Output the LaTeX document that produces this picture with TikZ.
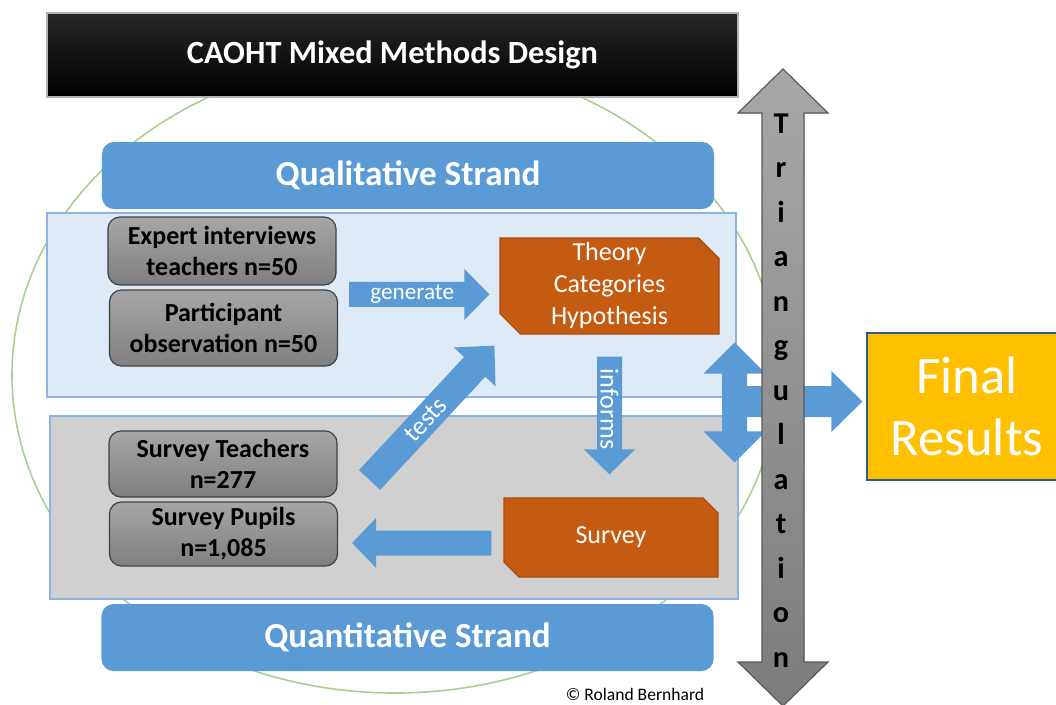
\documentclass[tikz,border=0pt]{standalone}
\usepackage{fontspec}
\setmainfont{Carlito}
\usetikzlibrary{calc,shapes.misc}

\definecolor{strandblue}{HTML}{5B9BD5}
\definecolor{qualfill}{HTML}{DEEBF7}
\definecolor{quantfill}{HTML}{D0D0D0}
\definecolor{regionline}{HTML}{8EB4E3}
\definecolor{boxtop}{HTML}{A6A6A6}
\definecolor{boxbot}{HTML}{7F7F7F}
\definecolor{boxline}{HTML}{404040}
\definecolor{methodorange}{HTML}{C55A11}
\definecolor{finalgold}{HTML}{FFC000}
\definecolor{finalline}{HTML}{2F5597}
\definecolor{circlegreen}{HTML}{A9D18E}
\definecolor{trilight}{HTML}{A8A8A8}
\definecolor{tridark}{HTML}{7C7C7C}
\definecolor{triline}{HTML}{5A5A5A}

% block arrow: [style]{from}{to}{shaft}{head width}{head length}, sizes in px
\newcommand{\blockarrow}[6][]{%
  \coordinate (ba-h) at ($(#3)!#6*0.25mm!(#2)$);
  \fill[#1] ($(#2)!#4*0.125mm!90:(#3)$) -- ($(ba-h)!#4*0.125mm!90:(#3)$)
    -- ($(ba-h)!#5*0.125mm!90:(#3)$) -- (#3)
    -- ($(ba-h)!#5*0.125mm!-90:(#3)$) -- ($(ba-h)!#4*0.125mm!-90:(#3)$)
    -- ($(#2)!#4*0.125mm!-90:(#3)$) -- cycle;}
% same with a head at both ends
\newcommand{\doublearrow}[6][]{%
  \coordinate (da-a) at ($(#2)!#6*0.25mm!(#3)$);
  \coordinate (da-b) at ($(#3)!#6*0.25mm!(#2)$);
  \fill[#1] (#2) -- ($(da-a)!#5*0.125mm!90:(#3)$) -- ($(da-a)!#4*0.125mm!90:(#3)$)
    -- ($(da-b)!#4*0.125mm!90:(#3)$) -- ($(da-b)!#5*0.125mm!90:(#3)$) -- (#3)
    -- ($(da-b)!#5*0.125mm!-90:(#3)$) -- ($(da-b)!#4*0.125mm!-90:(#3)$)
    -- ($(da-a)!#4*0.125mm!-90:(#3)$) -- ($(da-a)!#5*0.125mm!-90:(#3)$) -- cycle;}

\begin{document}
\begin{tikzpicture}[x=0.25mm,y=-0.25mm,
  title/.style={draw=gray!60, line width=0.3mm, top color=black!85, bottom color=black, text=white,
    font=\fontsize{23}{27}\selectfont\bfseries, minimum width=172.75mm, minimum height=21mm},
  strand/.style={fill=strandblue, rounded corners=3mm, text=white, font=\fontsize{25}{30}\selectfont\bfseries,
    minimum width=153mm, minimum height=16.75mm},
  region/.style={draw=regionline, line width=0.3mm},
  source/.style={draw=boxline, line width=0.3mm, rounded corners=3mm, top color=boxtop, bottom color=boxbot,
    font=\fontsize{18.5}{22}\selectfont\bfseries, align=center, minimum width=57mm},
  method/.style={chamfered rectangle, chamfered rectangle corners={north east,south west},
    chamfered rectangle xsep=4mm, fill=methodorange, draw=methodorange!85!black, line width=0.3mm,
    text=white, align=center, font=\fontsize{18.5}{22.8}\selectfont},
  arrowtext/.style={text=white, font=\fontsize{16.5}{20}\selectfont},
  final/.style={fill=finalgold, draw=finalline, line width=0.3mm, text=white, align=center,
    minimum width=50mm, minimum height=36.75mm, font=\fontsize{37.5}{44}\selectfont},
  trialetter/.style={font=\fontsize{21.5}{26}\selectfont\bfseries}]
\tikzstyle{every node}+=[inner sep=0pt]
\useasboundingbox (0,0) rectangle (1056,704);

\draw [circlegreen, line width=0.4mm] (395,375) ellipse (383 and 318);

\node[title] (title) at (392.5,55) {CAOHT Mixed Methods Design};
\node[strand] (qual) at (408,175.5) {Qualitative Strand};
\node[region, fill=qualfill, minimum width=172.25mm, minimum height=46mm] (qualreg) at (391.5,305) {};
\node[region, fill=quantfill, minimum width=172mm, minimum height=45.75mm] (quantreg) at (394,507.5) {};
\node[strand] (quant) at (407.5,637.5) {Quantitative Strand};

\node[source, minimum height=17mm] (expert) at (222,251) {Expert interviews\\teachers n=50};
\node[source, minimum height=19mm] (partic) at (223.5,328) {Participant\\observation n=50};
\node[source, minimum height=16.5mm] (steach) at (223,464) {Survey Teachers\\n=277};
\node[source, minimum height=16mm] (spupil) at (223.5,534) {Survey Pupils\\n=1,085};

\node[method, minimum width=54.75mm, minimum height=24mm] (theory) at (609.5,286) {Theory\\Categories\\Hypothesis};
\node[method, minimum width=53.5mm, minimum height=19.75mm] (survey) at (611,537.5) {Survey};

\node[final] (final) at (967,406.5) {Final\\Results};

% generate
\coordinate (gen-a) at ($(partic.north east)+(11,5)$);
\coordinate (gen-b) at ($(theory.west |- gen-a)+(-10,0)$);
\blockarrow[strandblue]{gen-a}{gen-b}{25}{51}{25}
\node[arrowtext] at ($(gen-a)!0.45!(gen-b)$) {generate};

% informs
\coordinate (inf-a) at ($(theory.south)+(0,22)$);
\coordinate (inf-b) at ($(survey.north -| inf-a)+(0,-23)$);
\blockarrow[strandblue]{inf-a}{inf-b}{25}{51}{25}
\node[arrowtext, font=\fontsize{18.5}{22}\selectfont, rotate=-90] at ($(inf-a)!0.445!(inf-b)$) {informs};

% tests
\coordinate (tst-a) at ($(steach.east)+(32,16)$);
\coordinate (tst-b) at ($(theory.west |- theory.south)+(-5,11)$);
\blockarrow[strandblue]{tst-a}{tst-b}{29}{57}{29}
\node[arrowtext, font=\fontsize{18.5}{22}\selectfont, rotate=47] at ($(tst-a)!0.45!(tst-b)$) {tests};

% survey back to the samples
\coordinate (sur-a) at ($(survey.west)+(-12,5.5)$);
\coordinate (sur-b) at ($(spupil.east |- sur-a)+(14,0)$);
\blockarrow[strandblue]{sur-a}{sur-b}{25}{50}{24}

% both strands to the final results
\coordinate (lnk-a) at ($(qualreg.south east)+(-2,-55)$);
\coordinate (lnk-b) at ($(quantreg.north east)+(-4,47)$);
\doublearrow[strandblue]{lnk-a}{lnk-b}{25}{62}{31}
\coordinate (lnk-d) at ($(final.west)+(-4,-5)$);
\coordinate (lnk-c) at (lnk-a |- lnk-d);
\blockarrow[strandblue]{lnk-c}{lnk-d}{31}{61}{31}

% triangulation
\coordinate (tri-top) at (783,69);
\coordinate (tri-bot) at (783,706);
\doublearrow[draw=triline, line width=0.3mm, top color=trilight, bottom color=tridark]{tri-top}{tri-bot}{42}{90}{44}
\foreach \c [count=\i from 0] in {T,r,i,a,n,g,u,l,a,t,i,o,n}
  \node[trialetter, anchor=base] (tri\i) at (781,133+44.5*\i) {\c};

\node[font=\fontsize{12.5}{15}\selectfont, anchor=base] (copy) at (635,700) {© Roland Bernhard};
\end{tikzpicture}
\end{document}
